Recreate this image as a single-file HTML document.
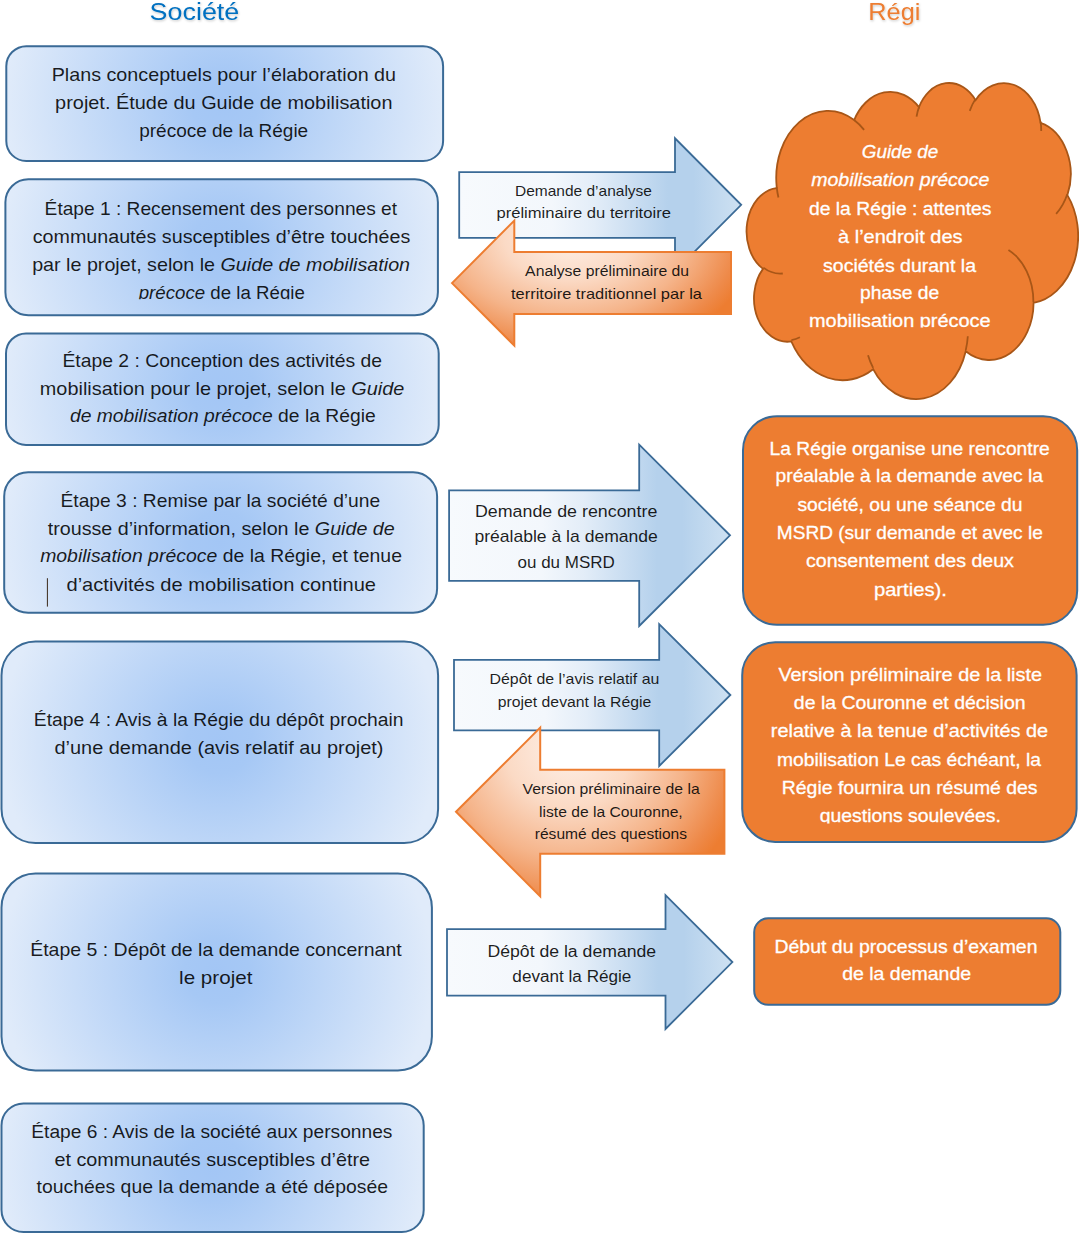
<!DOCTYPE html><html lang="fr"><head><meta charset="utf-8"><title>Processus de mobilisation précoce</title>
<style>html,body{margin:0;padding:0;background:#fff}svg{display:block}text{font-family:"Liberation Sans", sans-serif;white-space:pre}</style></head><body>
<svg width="1079" height="1234" viewBox="0 0 1079 1234">
<defs>
<linearGradient id="gb" x1="0" y1="0" x2="1" y2="0"><stop offset="0" stop-color="#F7FAFD"/><stop offset="0.33" stop-color="#F3F7FC"/><stop offset="0.48" stop-color="#E3EDF8"/><stop offset="0.61" stop-color="#CCDFF2"/><stop offset="0.74" stop-color="#B5D1EC"/><stop offset="0.83" stop-color="#B5D1EC"/><stop offset="1" stop-color="#CEE1F2"/></linearGradient>
<radialGradient id="go" cx="0.42" cy="0.12" r="0.67" gradientTransform="translate(0.42 0.12) scale(1 1.5) translate(-0.42 -0.12)"><stop offset="0" stop-color="#FEF1E9"/><stop offset="0.35" stop-color="#FBDAC5"/><stop offset="0.65" stop-color="#F5B48A"/><stop offset="0.9" stop-color="#EE8A4A"/><stop offset="1" stop-color="#ED7D31"/></radialGradient>
<radialGradient id="g0" gradientUnits="userSpaceOnUse" cx="224.7" cy="103.6" r="219.4" gradientTransform="translate(0 5.18) scale(1 0.95)"><stop offset="0" stop-color="#A3C6F5"/><stop offset="0.15" stop-color="#A6C8F5"/><stop offset="1" stop-color="#E0EBFA"/></radialGradient>
<radialGradient id="g1" gradientUnits="userSpaceOnUse" cx="221.6" cy="247.2" r="217.2" gradientTransform="translate(0 12.36) scale(1 0.95)"><stop offset="0" stop-color="#A3C6F5"/><stop offset="0.15" stop-color="#A6C8F5"/><stop offset="1" stop-color="#E0EBFA"/></radialGradient>
<radialGradient id="g2" gradientUnits="userSpaceOnUse" cx="222.3" cy="389.1" r="217.3" gradientTransform="translate(0 19.46) scale(1 0.95)"><stop offset="0" stop-color="#A3C6F5"/><stop offset="0.15" stop-color="#A6C8F5"/><stop offset="1" stop-color="#E0EBFA"/></radialGradient>
<radialGradient id="g3" gradientUnits="userSpaceOnUse" cx="220.7" cy="542.5" r="217.5" gradientTransform="translate(0 27.12) scale(1 0.95)"><stop offset="0" stop-color="#A3C6F5"/><stop offset="0.15" stop-color="#A6C8F5"/><stop offset="1" stop-color="#E0EBFA"/></radialGradient>
<radialGradient id="g4" gradientUnits="userSpaceOnUse" cx="219.8" cy="742.2" r="219.3" gradientTransform="translate(0 37.11) scale(1 0.95)"><stop offset="0" stop-color="#A3C6F5"/><stop offset="0.15" stop-color="#A6C8F5"/><stop offset="1" stop-color="#E0EBFA"/></radialGradient>
<radialGradient id="g5" gradientUnits="userSpaceOnUse" cx="216.7" cy="972.0" r="216.2" gradientTransform="translate(0 48.60) scale(1 0.95)"><stop offset="0" stop-color="#A3C6F5"/><stop offset="0.15" stop-color="#A6C8F5"/><stop offset="1" stop-color="#E0EBFA"/></radialGradient>
<radialGradient id="g6" gradientUnits="userSpaceOnUse" cx="212.6" cy="1167.8" r="212.1" gradientTransform="translate(0 58.39) scale(1 0.95)"><stop offset="0" stop-color="#A3C6F5"/><stop offset="0.15" stop-color="#A6C8F5"/><stop offset="1" stop-color="#E0EBFA"/></radialGradient>
<filter id="sh" x="-10%" y="-30%" width="120%" height="180%"><feDropShadow dx="0.6" dy="1.2" stdDeviation="0.9" flood-color="#000" flood-opacity="0.22"/></filter>
<clipPath id="c6"><rect x="0" y="0" width="1079" height="299.20"/></clipPath>
<clipPath id="c41"><rect x="0" y="0" width="1079" height="327.40"/></clipPath>
<clipPath id="c53"><rect x="0" y="0" width="1079" height="823.40"/></clipPath>
</defs>
<rect x="6.30" y="46.20" width="436.80" height="114.80" rx="20.00" ry="20.00" fill="url(#g0)" stroke="#3A6A96" stroke-width="2"/>
<rect x="5.40" y="179.30" width="432.50" height="135.90" rx="23.00" ry="23.00" fill="url(#g1)" stroke="#3A6A96" stroke-width="2"/>
<rect x="6.00" y="333.40" width="432.70" height="111.50" rx="20.00" ry="20.00" fill="url(#g2)" stroke="#3A6A96" stroke-width="2"/>
<rect x="4.20" y="472.20" width="432.90" height="140.60" rx="24.00" ry="24.00" fill="url(#g3)" stroke="#3A6A96" stroke-width="2"/>
<rect x="1.50" y="641.40" width="436.60" height="201.70" rx="34.00" ry="34.00" fill="url(#g4)" stroke="#3A6A96" stroke-width="2"/>
<rect x="1.50" y="873.60" width="430.40" height="196.90" rx="34.00" ry="34.00" fill="url(#g5)" stroke="#3A6A96" stroke-width="2"/>
<rect x="1.50" y="1103.40" width="422.20" height="128.70" rx="22.00" ry="22.00" fill="url(#g6)" stroke="#3A6A96" stroke-width="2"/>
<path d="M776.70 187.11 A51.77 67.22 0 0 1 854.17 120.05 A40.89 53.16 0 0 1 918.96 107.11 A33.46 43.49 0 0 1 975.52 100.15 A37.24 48.24 0 0 1 1040.57 122.79 A40.89 53.20 0 0 1 1067.41 195.09 A51.94 67.44 0 0 1 1033.57 302.93 A44.35 57.55 0 0 1 965.73 351.28 A51.77 67.41 0 0 1 873.15 369.21 A59.19 77.12 0 0 1 791.30 341.46 A33.43 43.29 0 0 1 763.00 268.88 A33.31 43.49 0 0 1 776.42 188.10Z" fill="#ED7D31" stroke="#A85617" stroke-width="1.8"/>
<path d="M782.78 273.48 A33.31 43.49 0 0 1 763.36 267.65 M799.91 337.28 A33.43 43.29 0 0 1 791.42 340.07 M873.13 367.94 A51.77 67.41 0 0 1 868.01 355.21 M967.81 336.20 A51.77 67.41 0 0 1 965.76 350.16 M1008.46 249.90 A44.35 57.55 0 0 1 1033.38 302.10 M1067.25 194.31 A40.89 53.20 0 0 1 1056.15 213.88 M1040.62 121.69 A37.24 48.24 0 0 1 1041.20 130.93 M969.73 110.91 A37.24 48.24 0 0 1 975.42 99.12 M916.55 116.53 A33.46 43.49 0 0 1 919.30 106.36 M854.13 119.98 A51.77 67.22 0 0 1 864.10 129.84 M778.44 197.49 A51.77 67.22 0 0 1 776.70 187.12 " fill="none" stroke="#A85617" stroke-width="1.8"/>
<rect x="743.00" y="416.20" width="334.20" height="208.60" rx="34.00" ry="34.00" fill="#ED7D31" stroke="#3A6A96" stroke-width="2"/>
<rect x="742.20" y="642.20" width="334.40" height="199.70" rx="33.00" ry="33.00" fill="#ED7D31" stroke="#3A6A96" stroke-width="2"/>
<rect x="754.20" y="918.30" width="306.10" height="86.50" rx="14.00" ry="14.00" fill="#ED7D31" stroke="#3A6A96" stroke-width="2"/>
<text xml:space="preserve" transform="matrix(1.0973 0 0 1 51.65 80.70)" font-size="18.000" fill="#000000" fill-opacity="0.88">Plans conceptuels pour l’élaboration du</text>
<text xml:space="preserve" transform="matrix(1.1059 0 0 1 55.12 108.50)" font-size="18.000" fill="#000000" fill-opacity="0.88">projet. Étude du Guide de mobilisation</text>
<text xml:space="preserve" transform="matrix(1.0563 0 0 1 139.18 136.60)" font-size="18.000" fill="#000000" fill-opacity="0.88">précoce de la Régie</text>
<text xml:space="preserve" transform="matrix(1.0653 0 0 1 44.60 214.80)" font-size="18.000" fill="#000000" fill-opacity="0.88">Étape 1 : Recensement des personnes et</text>
<text xml:space="preserve" transform="matrix(1.0947 0 0 1 32.68 243.00)" font-size="18.000" fill="#000000" fill-opacity="0.88">communautés susceptibles d’être touchées</text>
<text xml:space="preserve" transform="matrix(1.0956 0 0 1 32.13 271.20)" font-size="18.000" fill="#000000" fill-opacity="0.88">par le projet, selon le <tspan font-style="italic">Guide de mobilisation</tspan></text>
<g clip-path="url(#c6)"><text xml:space="preserve" transform="matrix(1.0385 0 0 1 138.72 299.40)" font-size="18.000" fill="#000000" fill-opacity="0.88"><tspan font-style="italic">précoce</tspan> de la Régie</text></g>
<text xml:space="preserve" transform="matrix(1.0759 0 0 1 62.39 366.90)" font-size="18.000" fill="#000000" fill-opacity="0.88">Étape 2 : Conception des activités de</text>
<text xml:space="preserve" transform="matrix(1.1043 0 0 1 39.82 395.00)" font-size="18.000" fill="#000000" fill-opacity="0.88">mobilisation pour le projet, selon le <tspan font-style="italic">Guide</tspan></text>
<text xml:space="preserve" transform="matrix(1.0725 0 0 1 69.96 422.40)" font-size="18.000" fill="#000000" fill-opacity="0.88"><tspan font-style="italic">de mobilisation précoce</tspan> de la Régie</text>
<text xml:space="preserve" transform="matrix(1.0690 0 0 1 60.50 506.80)" font-size="18.000" fill="#000000" fill-opacity="0.88">Étape 3 : Remise par la société d’une</text>
<text xml:space="preserve" transform="matrix(1.0947 0 0 1 47.73 534.80)" font-size="18.000" fill="#000000" fill-opacity="0.88">trousse d’information, selon le <tspan font-style="italic">Guide de</tspan></text>
<text xml:space="preserve" transform="matrix(1.0806 0 0 1 40.13 562.40)" font-size="18.000" fill="#000000" fill-opacity="0.88"><tspan font-style="italic">mobilisation précoce</tspan> de la Régie, et tenue</text>
<text xml:space="preserve" transform="matrix(1.1172 0 0 1 66.46 591.20)" font-size="18.000" fill="#000000" fill-opacity="0.88">d’activités de mobilisation continue</text>
<text xml:space="preserve" transform="matrix(1.0726 0 0 1 33.79 725.80)" font-size="18.000" fill="#000000" fill-opacity="0.88">Étape 4 : Avis à la Régie du dépôt prochain</text>
<text xml:space="preserve" transform="matrix(1.1075 0 0 1 54.47 753.60)" font-size="18.000" fill="#000000" fill-opacity="0.88">d’une demande (avis relatif au projet)</text>
<text xml:space="preserve" transform="matrix(1.0832 0 0 1 30.18 955.80)" font-size="18.000" fill="#000000" fill-opacity="0.88">Étape 5 : Dépôt de la demande concernant</text>
<text xml:space="preserve" transform="matrix(1.1458 0 0 1 179.07 983.80)" font-size="18.000" fill="#000000" fill-opacity="0.88">le projet</text>
<text xml:space="preserve" transform="matrix(1.0661 0 0 1 31.30 1137.60)" font-size="18.000" fill="#000000" fill-opacity="0.88">Étape 6 : Avis de la société aux personnes</text>
<text xml:space="preserve" transform="matrix(1.0998 0 0 1 54.48 1165.80)" font-size="18.000" fill="#000000" fill-opacity="0.88">et communautés susceptibles d’être</text>
<text xml:space="preserve" transform="matrix(1.0776 0 0 1 36.53 1193.40)" font-size="18.000" fill="#000000" fill-opacity="0.88">touchées que la demande a été déposée</text>
<path d="M459.2 172.1L675.0 172.1L675.0 138.3L741.2 204.8L675.0 271.3L675.0 237.9L459.2 237.9Z" fill="url(#gb)" stroke="#3A6A96" stroke-width="1.8" stroke-linejoin="miter"/>
<text xml:space="preserve" transform="matrix(1.0372 0 0 1 515.00 196.40)" font-size="14.940" fill="#000000" fill-opacity="0.88">Demande d’analyse</text>
<text xml:space="preserve" transform="matrix(1.1124 0 0 1 496.39 218.40)" font-size="14.940" fill="#000000" fill-opacity="0.88">préliminaire du territoire</text>
<path d="M452.0 283.1L514.3 220.6L514.3 252.0L731.0 252.0L731.0 314.0L514.3 314.0L514.3 345.6Z" fill="url(#go)" stroke="#ED7D31" stroke-width="2" stroke-linejoin="miter"/>
<text xml:space="preserve" transform="matrix(1.0574 0 0 1 525.10 276.00)" font-size="14.940" fill="#000000" fill-opacity="0.88">Analyse préliminaire du</text>
<text xml:space="preserve" transform="matrix(1.1007 0 0 1 511.02 298.50)" font-size="14.940" fill="#000000" fill-opacity="0.88">territoire traditionnel par la</text>
<path d="M449.1 490.3L639.2 490.3L639.2 444.6L730.0 535.3L639.2 626.0L639.2 580.9L449.1 580.9Z" fill="url(#gb)" stroke="#3A6A96" stroke-width="1.8" stroke-linejoin="miter"/>
<text xml:space="preserve" transform="matrix(1.1205 0 0 1 474.90 516.80)" font-size="15.930" fill="#000000" fill-opacity="0.88">Demande de rencontre</text>
<text xml:space="preserve" transform="matrix(1.1029 0 0 1 474.40 541.80)" font-size="15.930" fill="#000000" fill-opacity="0.88">préalable à la demande</text>
<text xml:space="preserve" transform="matrix(1.0682 0 0 1 517.50 568.00)" font-size="15.930" fill="#000000" fill-opacity="0.88">ou du MSRD</text>
<path d="M454.0 659.8L659.2 659.8L659.2 624.2L730.4 695.0L659.2 766.0L659.2 730.3L454.0 730.3Z" fill="url(#gb)" stroke="#3A6A96" stroke-width="1.8" stroke-linejoin="miter"/>
<text xml:space="preserve" transform="matrix(1.0665 0 0 1 489.47 684.20)" font-size="14.940" fill="#000000" fill-opacity="0.88">Dépôt de l’avis relatif au</text>
<text xml:space="preserve" transform="matrix(1.0567 0 0 1 497.74 706.50)" font-size="14.940" fill="#000000" fill-opacity="0.88">projet devant la Régie</text>
<path d="M456.0 811.8L540.2 727.6L540.2 769.8L724.4 769.8L724.4 853.8L540.2 853.8L540.2 896.4Z" fill="url(#go)" stroke="#ED7D31" stroke-width="2" stroke-linejoin="miter"/>
<text xml:space="preserve" transform="matrix(1.0557 0 0 1 522.60 794.30)" font-size="14.940" fill="#000000" fill-opacity="0.88">Version préliminaire de la</text>
<text xml:space="preserve" transform="matrix(1.0494 0 0 1 539.05 816.80)" font-size="14.940" fill="#000000" fill-opacity="0.88">liste de la Couronne,</text>
<text xml:space="preserve" transform="matrix(1.0429 0 0 1 534.76 838.60)" font-size="14.940" fill="#000000" fill-opacity="0.88">résumé des questions</text>
<path d="M447.0 929.2L665.5 929.2L665.5 895.2L732.4 962.1L665.5 1029.0L665.5 995.6L447.0 995.6Z" fill="url(#gb)" stroke="#3A6A96" stroke-width="1.8" stroke-linejoin="miter"/>
<text xml:space="preserve" transform="matrix(1.1340 0 0 1 487.48 957.10)" font-size="15.570" fill="#000000" fill-opacity="0.88">Dépôt de la demande</text>
<text xml:space="preserve" transform="matrix(1.1007 0 0 1 512.37 982.00)" font-size="15.570" fill="#000000" fill-opacity="0.88">devant la Régie</text>
<text xml:space="preserve" transform="matrix(1.0490 0 0 1 861.75 158.40)" font-size="18.000" fill="#FFFFFF" stroke="#fff" stroke-width="0.3"><tspan font-style="italic">Guide de</tspan></text>
<text xml:space="preserve" transform="matrix(1.0867 0 0 1 811.13 186.40)" font-size="18.000" fill="#FFFFFF" stroke="#fff" stroke-width="0.3"><tspan font-style="italic">mobilisation précoce</tspan></text>
<text xml:space="preserve" transform="matrix(1.0726 0 0 1 809.00 214.50)" font-size="18.000" fill="#FFFFFF" stroke="#fff" stroke-width="0.3">de la Régie : attentes</text>
<text xml:space="preserve" transform="matrix(1.1106 0 0 1 838.07 243.00)" font-size="18.000" fill="#FFFFFF" stroke="#fff" stroke-width="0.3">à l’endroit des</text>
<text xml:space="preserve" transform="matrix(1.0847 0 0 1 823.06 271.60)" font-size="18.000" fill="#FFFFFF" stroke="#fff" stroke-width="0.3">sociétés durant la</text>
<text xml:space="preserve" transform="matrix(1.0694 0 0 1 860.06 299.10)" font-size="18.000" fill="#FFFFFF" stroke="#fff" stroke-width="0.3">phase de</text>
<g clip-path="url(#c41)"><text xml:space="preserve" transform="matrix(1.1074 0 0 1 809.02 327.20)" font-size="18.000" fill="#FFFFFF" stroke="#fff" stroke-width="0.3">mobilisation précoce</text></g>
<text xml:space="preserve" transform="matrix(1.0688 0 0 1 769.60 454.60)" font-size="18.000" fill="#FFFFFF" stroke="#fff" stroke-width="0.3">La Régie organise une rencontre</text>
<text xml:space="preserve" transform="matrix(1.0695 0 0 1 775.56 482.40)" font-size="18.000" fill="#FFFFFF" stroke="#fff" stroke-width="0.3">préalable à la demande avec la</text>
<text xml:space="preserve" transform="matrix(1.0719 0 0 1 797.46 510.60)" font-size="18.000" fill="#FFFFFF" stroke="#fff" stroke-width="0.3">société, ou une séance du</text>
<text xml:space="preserve" transform="matrix(1.0601 0 0 1 776.81 538.90)" font-size="18.000" fill="#FFFFFF" stroke="#fff" stroke-width="0.3">MSRD (sur demande et avec le</text>
<text xml:space="preserve" transform="matrix(1.0889 0 0 1 805.98 567.30)" font-size="18.000" fill="#FFFFFF" stroke="#fff" stroke-width="0.3">consentement des deux</text>
<text xml:space="preserve" transform="matrix(1.1226 0 0 1 873.90 595.90)" font-size="18.000" fill="#FFFFFF" stroke="#fff" stroke-width="0.3">parties).</text>
<text xml:space="preserve" transform="matrix(1.1029 0 0 1 778.42 681.20)" font-size="18.000" fill="#FFFFFF" stroke="#fff" stroke-width="0.3">Version préliminaire de la liste</text>
<text xml:space="preserve" transform="matrix(1.0836 0 0 1 793.79 709.20)" font-size="18.000" fill="#FFFFFF" stroke="#fff" stroke-width="0.3">de la Couronne et décision</text>
<text xml:space="preserve" transform="matrix(1.1048 0 0 1 770.82 737.30)" font-size="18.000" fill="#FFFFFF" stroke="#fff" stroke-width="0.3">relative à la tenue d’activités de</text>
<text xml:space="preserve" transform="matrix(1.0731 0 0 1 776.96 765.90)" font-size="18.000" fill="#FFFFFF" stroke="#fff" stroke-width="0.3">mobilisation Le cas échéant, la</text>
<text xml:space="preserve" transform="matrix(1.0791 0 0 1 781.78 794.00)" font-size="18.000" fill="#FFFFFF" stroke="#fff" stroke-width="0.3">Régie fournira un résumé des</text>
<g clip-path="url(#c53)"><text xml:space="preserve" transform="matrix(1.0781 0 0 1 819.69 821.70)" font-size="18.000" fill="#FFFFFF" stroke="#fff" stroke-width="0.3">questions soulevées.</text></g>
<text xml:space="preserve" transform="matrix(1.0819 0 0 1 774.48 952.70)" font-size="18.000" fill="#FFFFFF" stroke="#fff" stroke-width="0.3">Début du processus d’examen</text>
<text xml:space="preserve" transform="matrix(1.0834 0 0 1 842.19 980.40)" font-size="18.000" fill="#FFFFFF" stroke="#fff" stroke-width="0.3">de la demande</text>
<rect x="46.9" y="578.2" width="1" height="28.4" fill="#3B2A1A"/>
<text transform="matrix(1.1060 0 0 1 149.62 19.60)" font-size="24.300" fill="#0070C0" filter="url(#sh)">Société</text>
<text transform="matrix(1.0422 0 0 1 868.32 20.00)" font-size="24.300" fill="#ED7D31" filter="url(#sh)">Régi</text>
</svg></body></html>
